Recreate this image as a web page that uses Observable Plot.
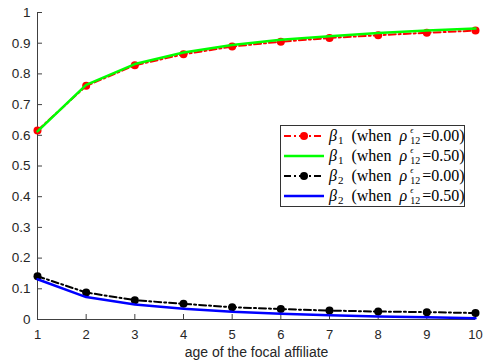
<!DOCTYPE html>
<html><head><meta charset="utf-8">
<script src="https://cdn.jsdelivr.net/npm/d3@7"></script>
<script src="https://cdn.jsdelivr.net/npm/@observablehq/plot@0.6"></script>
<style>
body{margin:0;background:#fff;}
#wrap{position:relative;width:487px;height:364px;}
#legend{position:absolute;left:280px;top:125px;width:185px;height:82px;box-sizing:border-box;border:1px solid #333;background:#fff;font-family:"Liberation Serif","DejaVu Serif",serif;font-size:16px;color:#000;}
.row{position:absolute;left:2px;height:20px;display:flex;align-items:center;white-space:nowrap;}
.row svg{margin-right:4px;}
.ss{display:inline-flex;flex-direction:column;margin-left:3px;margin-right:2px;}
.ss .e{display:block;font-size:8px;line-height:9px;height:9px;font-style:italic;}
.ss .n{display:block;font-size:10px;line-height:11px;height:11px;}
.sb{font-size:11px;position:relative;top:4px;margin-left:1px;}
</style>
</head><body>
<div id="wrap"></div>
<script>
const ages = [1,2,3,4,5,6,7,8,9,10];
const beta1_rho000 = [0.616,0.761,0.828,0.864,0.889,0.905,0.917,0.926,0.934,0.941];
const beta1_rho050 = [0.613,0.764,0.832,0.870,0.894,0.911,0.923,0.933,0.941,0.948];
const beta2_rho000 = [0.141,0.088,0.063,0.051,0.040,0.034,0.029,0.026,0.024,0.021];
const beta2_rho050 = [0.131,0.073,0.049,0.035,0.025,0.019,0.014,0.010,0.007,0.004];
const yTicks = [0,0.1,0.2,0.3,0.4,0.5,0.6,0.7,0.8,0.9,1];
const xTicks = [1,2,3,4,5,6,7,8,9,10];
const xLabel = "age of the focal affiliate";

const mk = arr => ages.map((a,i)=>({age:a, v:arr[i]}));
const s1 = mk(beta1_rho000), s2 = mk(beta1_rho050), s3 = mk(beta2_rho000), s4 = mk(beta2_rho050);
const dash = "7,3,2,3";
const axisColor = "#404040";

const chart = Plot.plot({
  width: 487, height: 364,
  marginLeft: 37, marginRight: 12, marginTop: 12, marginBottom: 45,
  x: {domain:[1,10]},
  y: {domain:[0,1]},
  style: {fontFamily: "Liberation Sans, Arial, sans-serif", fontSize: "13px", color: "#262626"},
  marks: [
    Plot.axisX({ticks: xTicks, tickSize: -5, tickPadding: 15, stroke: axisColor, fill:"#262626", fontSize: 13, label: null}),
    Plot.axisY({ticks: yTicks, tickSize: -5, tickPadding: 12, stroke: axisColor, fill:"#262626", fontSize: 13.5, label: null, tickFormat: d => d3.format("~g")(d)}),
    Plot.ruleX([1], {stroke: axisColor}),
    Plot.ruleY([0], {stroke: axisColor}),
    Plot.line(s1, {x:"age", y:"v", stroke:"#ff0000", strokeWidth:2, strokeDasharray:dash}),
    Plot.dot(s1, {x:"age", y:"v", fill:"#ff0000", r:4}),
    Plot.line(s2, {x:"age", y:"v", stroke:"#00ff00", strokeWidth:2.5}),
    Plot.line(s3, {x:"age", y:"v", stroke:"#000", strokeWidth:2, strokeDasharray:dash}),
    Plot.dot(s3, {x:"age", y:"v", fill:"#000", r:4}),
    Plot.line(s4, {x:"age", y:"v", stroke:"#0000ff", strokeWidth:2.5}),
    Plot.text([xLabel], {frameAnchor:"bottom", dy: 37, fill:"#262626", fontSize: 14})
  ]
});
const wrap = document.getElementById("wrap");
wrap.appendChild(chart);

const entries = [
  {b:"1", r:"0.00", color:"#ff0000", dash:true},
  {b:"1", r:"0.50", color:"#00ff00", dash:false},
  {b:"2", r:"0.00", color:"#000000", dash:true},
  {b:"2", r:"0.50", color:"#0000ff", dash:false}
];
const lg = document.createElement("div");
lg.id = "legend";
const tops = [0, 20, 40, 60];
entries.forEach((e,i)=>{
  const row = document.createElement("div");
  row.className = "row";
  row.style.top = tops[i] + "px";
  const sw = e.dash
    ? `<svg width="42" height="12"><line x1="1" y1="6" x2="41" y2="6" stroke="${e.color}" stroke-width="2" stroke-dasharray="${dash}"/><circle cx="21" cy="6" r="4" fill="${e.color}"/></svg>`
    : `<svg width="42" height="12"><line x1="1" y1="6" x2="41" y2="6" stroke="${e.color}" stroke-width="2.5"/></svg>`;
  row.innerHTML = sw + `<i>β</i><span class="sb">${e.b}</span><span>&nbsp; (when&nbsp; <i>ρ</i></span><span class="ss"><span class="e">ϵ</span><span class="n">12</span></span><span>=${e.r})</span>`;
  lg.appendChild(row);
});
wrap.appendChild(lg);
</script>
</body></html>
